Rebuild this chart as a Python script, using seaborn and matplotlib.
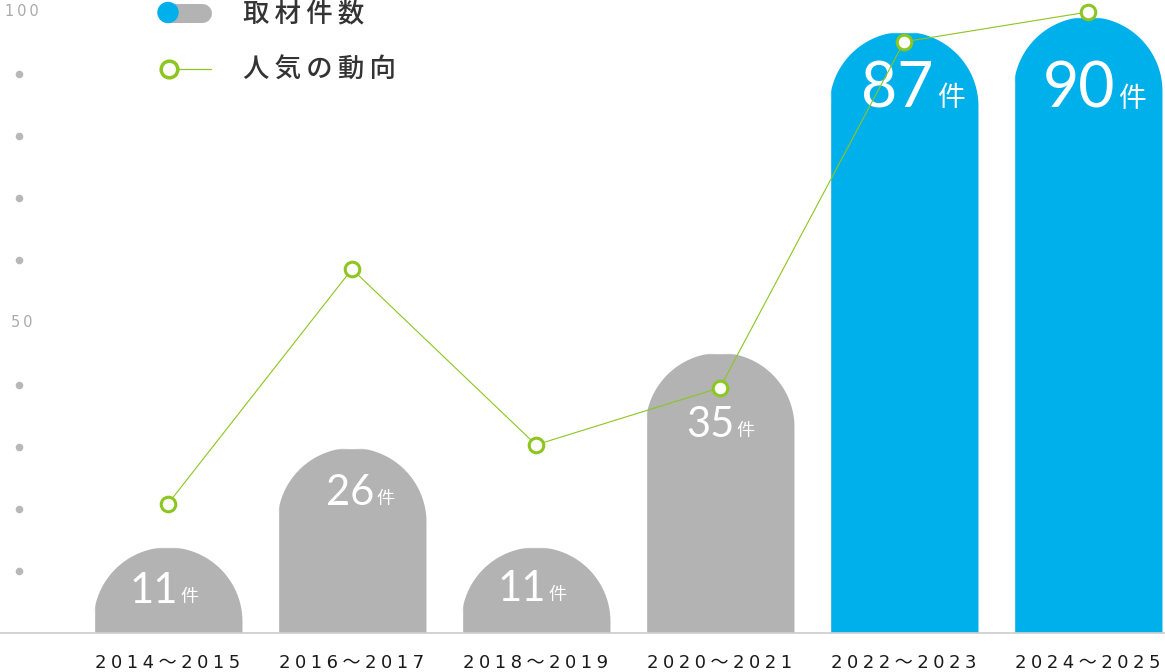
import numpy as np
import seaborn as sns
import matplotlib.pyplot as plt
from matplotlib.path import Path
from matplotlib.patches import PathPatch, Circle
from matplotlib.lines import Line2D
from matplotlib.transforms import Affine2D, blended_transform_factory

# data
periods = ['2014～2015', '2016～2017', '2018～2019', '2020～2021', '2022～2023', '2024～2025']
bar_heights = [13.8, 29.8, 13.8, 45.1, 96.8, 99.2]   # drawn height on the 0-100 axis
bar_labels = ['11', '26', '11', '35', '87', '90']    # 取材件数
trend = [20.8, 58.6, 30.3, 39.5, 95.2, 100.0]        # 人気の動向
bar_colors = ['#b3b3b3', '#b3b3b3', '#b3b3b3', '#b3b3b3', '#00b0ea', '#00b0ea']
minor_ticks = [10, 20, 30, 40, 60, 70, 80, 90]
major_ticks = [50, 100]

GREEN = '#8cc61e'
CJK = ['Noto Sans CJK JP', 'DejaVu Sans']
THIN = '\u2009'
QUARTER = '\u2005'

sns.set_style('white')
plt.rcParams['font.family'] = CJK

fig = plt.figure(figsize=(11.65, 6.72), dpi=100)
ax = fig.add_axes([0, 39 / 672, 1, 633 / 672])

sns.barplot(x=periods, y=bar_heights, hue=periods, palette=bar_colors,
            width=149 / 184, saturation=1, legend=False, ax=ax, zorder=2)
ax.set_xlim(-168 / 184, (1165 - 168) / 184)
ax.set_ylim(0, 633 / 6.21)

# rounded tops: clip every bar to a half-circle top
fig.canvas.draw()
px_x = ax.transData.transform((1, 0))[0] - ax.transData.transform((0, 0))[0]
px_y = ax.transData.transform((0, 1))[1] - ax.transData.transform((0, 0))[1]
for bar in ax.patches:
    x0, w, h = bar.get_x(), bar.get_width(), bar.get_height()
    rx = w / 2
    ry = rx * px_x / px_y
    cx, cy = x0 + rx, h - ry
    t = np.linspace(np.pi, 0, 90)
    verts = [(x0, -1), (x0, cy)] + list(zip(cx + rx * np.cos(t), cy + ry * np.sin(t))) + [(x0 + w, -1), (x0, -1)]
    codes = [Path.MOVETO] + [Path.LINETO] * (len(verts) - 2) + [Path.CLOSEPOLY]
    clip = PathPatch(Path(verts, codes), transform=ax.transData, facecolor='none', edgecolor='none')
    bar.set_clip_path(clip)

# labels inside bars
num_sizes = [30, 30, 30, 30, 45, 45]
ken_sizes = [13, 13, 13, 13, 20, 20]
split_px = [10, 22, 10, 14, 30, 27]
base_px = [56, 57, 54, 84, 76, 91]
for i, (h, lab) in enumerate(zip(bar_heights, bar_labels)):
    ax.annotate(lab, (i, h), xytext=(split_px[i] * 0.72, -base_px[i] * 0.72),
                textcoords='offset points', ha='right', va='baseline',
                color='white', fontsize=num_sizes[i], family='Lato', zorder=4)
    ax.annotate('件', (i, h), xytext=(split_px[i] * 0.72 + 2, -base_px[i] * 0.72 + 1),
                textcoords='offset points', ha='left', va='baseline',
                color='white', fontsize=ken_sizes[i], family=CJK, zorder=4)

# trend line
sns.lineplot(x=np.arange(len(periods)), y=trend, color=GREEN, linewidth=0.8,
             marker='o', markersize=10.5, markerfacecolor='white',
             markeredgecolor=GREEN, markeredgewidth=2.2, ax=ax, zorder=5, clip_on=False)

# y axis: dots and two numbers
tr = blended_transform_factory(ax.transAxes, ax.transData)
ax.scatter([19 / 1165] * len(minor_ticks), minor_ticks, s=30, color='#b8b8b8',
           transform=tr, zorder=3, linewidths=0)
for v in major_ticks:
    ax.text(22 / 1165, v, THIN.join(str(v)), transform=tr, ha='center', va='center',
            color='#aaaaaa', fontsize=10.5, family='DejaVu Sans')

ax.set_yticks([])
ax.set_xticks(range(len(periods)))
ax.set_xticklabels([QUARTER.join(p) for p in periods], color='#1a1a1a', fontsize=13,
                   family=['DejaVu Sans', 'Noto Sans CJK JP'])
ax.tick_params(axis='x', length=0, pad=15)
ax.set_xlabel('')
for s in ['top', 'left', 'right']:
    ax.spines[s].set_visible(False)
ax.spines['bottom'].set_color('#cccccc')
ax.spines['bottom'].set_linewidth(1.2)

# legend drawn in pixel coordinates from top-left
pix = Affine2D().scale(1 / 100).scale(1, -1).translate(0, 6.72) + fig.dpi_scale_trans
fig.add_artist(Line2D([167.5, 201.5], [12.5, 12.5], transform=pix, color='#b3b3b3',
                      linewidth=19 * 0.72, solid_capstyle='round', zorder=1))
fig.add_artist(Circle((168, 12.5), 10, transform=pix, color='#00b0ea', zorder=2))
fig.add_artist(Line2D([169, 211], [68.5, 68.5], transform=pix, color=GREEN, linewidth=0.9))
fig.add_artist(Line2D([169], [68.5], transform=pix, marker='o', markersize=12,
                      markerfacecolor='white', markeredgecolor=GREEN, markeredgewidth=2.5))
fig.text(243 / 1165, 1 - 15 / 672, THIN.join('取材件数'), ha='left', va='center',
         fontsize=19, color='#333333', weight='medium', family=CJK)
fig.text(243 / 1165, 1 - 70 / 672, THIN.join('人気の動向'), ha='left', va='center',
         fontsize=19, color='#333333', weight='medium', family=CJK)

fig.savefig('out.png', dpi=100)
